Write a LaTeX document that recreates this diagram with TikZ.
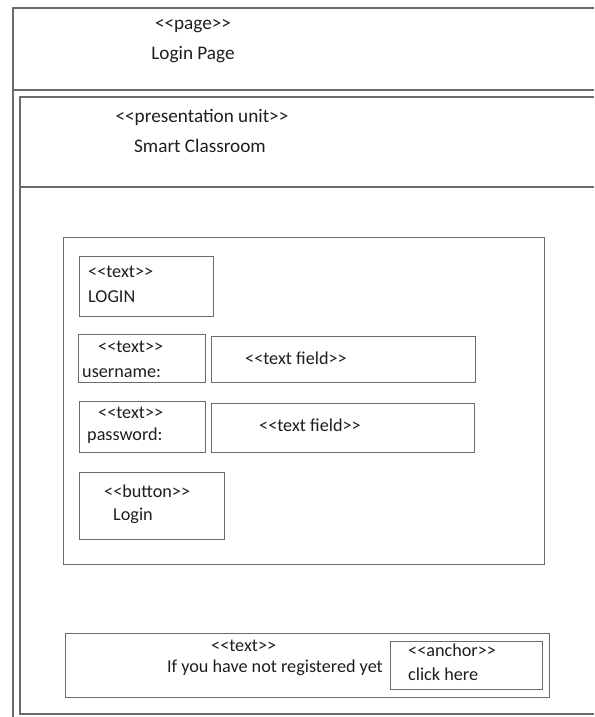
\documentclass[tikz,border=0pt]{standalone}
\usepackage{fontspec}
\setmainfont{Carlito}
% stereotype brackets written as two separate angle signs
\newcommand\stereo[1]{<{}<#1>{}>}
\begin{document}
\begin{tikzpicture}[x=1pt,y=-1pt,
  frame/.style={draw=black!58,line width=1.3pt},
  box/.style={draw=black!58,line width=1.3pt,rectangle,anchor=north west,inner sep=0pt},
  lbl/.style={text=black!88,inner sep=0pt,font=\fontsize{18.2}{20}\selectfont},
  title/.style={text=black!88,inner sep=0pt,font=\fontsize{19.2}{21}\selectfont}]
\useasboundingbox (0,0) rectangle (594,717);
\fill[white] (0,0) rectangle (594,717);

% page frame and its header compartment
\draw[frame] (13,717) |- (594,8);
\draw[frame] (13,90) -- (594,90);
\node[title] (pstereo) at (193,26) {\stereo{page}};
\node[title] (pname) at (193,55) {Login Page};

% presentation unit frame
\draw[frame] (594,97) -| (20,714) -- (594,714);
\draw[frame] (20,187) -- (594,187);
\node[title] (ustereo) at (202,117) {\stereo{presentation unit}};
\node[title] (uname) at (200,146) {Smart Classroom};

% login form container
\node[box,minimum width=481pt,minimum height=327pt] (form) at (63,237) {};

\node[box,minimum width=134pt,minimum height=60pt] (logintxt) at (79,256) {};
\node[lbl,anchor=west] (l1s) at (88,272) {\stereo{text}};
\node[lbl,anchor=west] (l1n) at (88,297) {LOGIN};

\node[box,minimum width=127pt,minimum height=48pt] (usertxt) at (78,334) {};
\node[lbl,anchor=west] (l2s) at (98,347) {\stereo{text}};
\node[lbl,anchor=west] (l2n) at (82,373) {username:};
\node[box,minimum width=264pt,minimum height=46pt] (userfield) at (211,336) {};
\node[lbl,anchor=west] (f1s) at (245,358) {\stereo{text field}};

\node[box,minimum width=126pt,minimum height=51pt] (passtxt) at (79,401) {};
\node[lbl,anchor=west] (l3s) at (98,413) {\stereo{text}};
\node[lbl,anchor=west] (l3n) at (87,436) {password:};
\node[box,minimum width=263pt,minimum height=49pt] (passfield) at (211,403) {};
\node[lbl,anchor=west] (f2s) at (259,425) {\stereo{text field}};

\node[box,minimum width=145pt,minimum height=67pt] (loginbtn) at (79,472) {};
\node[lbl,anchor=west] (bs) at (104,491) {\stereo{button}};
\node[lbl,anchor=west] (bn) at (113,516) {Login};

% registration hint with link
\node[box,minimum width=484pt,minimum height=64pt] (regbox) at (65,633) {};
\node[lbl,anchor=west] (rs) at (211,646) {\stereo{text}};
\node[lbl,anchor=east] (rn) at (383,668) {If you have not registered yet};
\node[box,minimum width=152pt,minimum height=48pt] (anchorbox) at (390,641) {};
\node[lbl,anchor=west] (as) at (408,650) {\stereo{anchor}};
\node[lbl,anchor=west] (an) at (408,674) {click here};
\end{tikzpicture}
\end{document}
